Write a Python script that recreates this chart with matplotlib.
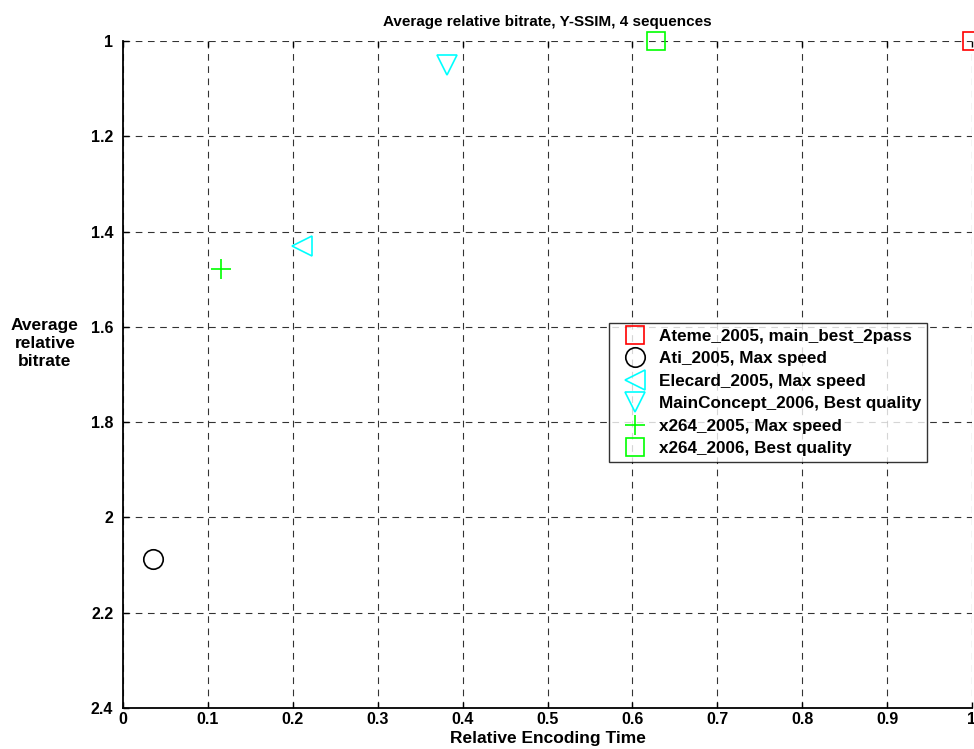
import matplotlib.pyplot as plt

# Encoder results: relative encoding time vs. average relative bitrate
codecs = ["Ateme_2005, main_best_2pass",
          "Ati_2005, Max speed",
          "Elecard_2005, Max speed",
          "MainConcept_2006, Best quality",
          "x264_2005, Max speed",
          "x264_2006, Best quality"]
enc_time = [1.0, 0.035, 0.211, 0.382, 0.115, 0.628]
rel_bitrate = [1.0, 2.087, 1.43, 1.05, 1.479, 1.0]
colors = ["red", "black", "cyan", "cyan", "#00ff00", "#00ff00"]
markers = ["s", "o", "<", "v", "+", "s"]
sizes = [12.5, 14, 14.5, 14.5, 15, 12.5]

xticks = [0, 0.1, 0.2, 0.3, 0.4, 0.5, 0.6, 0.7, 0.8, 0.9, 1]
xticklabels = ["0", "0.1", "0.2", "0.3", "0.4", "0.5", "0.6", "0.7", "0.8", "0.9", "1"]
yticks = [1, 1.2, 1.4, 1.6, 1.8, 2, 2.2, 2.4]
yticklabels = ["1", "1.2", "1.4", "1.6", "1.8", "2", "2.2", "2.4"]

font = ["Liberation Sans", "DejaVu Sans"]

fig = plt.figure(figsize=(9.74, 7.49), dpi=100)
ax = fig.add_axes([123 / 974, 41 / 749, 849 / 974, 667 / 749])

for name, x, y, c, m, s in zip(codecs, enc_time, rel_bitrate, colors, markers, sizes):
    ax.plot([x], [y], linestyle="none", marker=m, markersize=s,
            markerfacecolor="none", markeredgecolor=c, color=c,
            markeredgewidth=1.2, label=name, clip_on=False, zorder=5)

ax.set_xlim(0, 1)
ax.set_ylim(2.4, 1)
ax.set_xticks(xticks)
ax.set_xticklabels(xticklabels, family=font, fontweight="bold", fontsize=11.5)
ax.set_yticks(yticks)
ax.set_yticklabels(yticklabels, family=font, fontweight="bold", fontsize=11.5)
ax.tick_params(direction="in", length=4, width=1, top=True)
ax.tick_params(axis="y", pad=7)
ax.tick_params(axis="x", pad=3)

ax.grid(True, color="black", linestyle=(0, (6, 5)), linewidth=0.8, alpha=0.8)
ax.spines["top"].set_visible(False)
ax.spines["right"].set_visible(False)
ax.spines["left"].set_linewidth(1.3)
ax.spines["bottom"].set_linewidth(1.3)

ax.set_title("Average relative bitrate, Y-SSIM, 4 sequences", family=font,
             fontweight="bold", fontsize=11, pad=11)
ax.set_xlabel("Relative Encoding Time", family=font, fontweight="bold",
              fontsize=12.5, labelpad=3)
ax.set_ylabel("Average\nrelative\nbitrate", family=font, fontweight="bold",
              fontsize=12.5, rotation=0, ha="center", va="center",
              linespacing=1.25)
ax.yaxis.set_label_coords(-0.092, 0.546)

leg = ax.legend(loc="upper left", bbox_to_anchor=(0.573, 0.577),
                prop={"family": font, "weight": "bold", "size": 12.3},
                frameon=True, fancybox=False, edgecolor="black",
                borderpad=0.35, labelspacing=0.43, handletextpad=0.25,
                handlelength=2.3, borderaxespad=0)
leg.get_frame().set_linewidth(1.0)

fig.savefig("out.png", dpi=100)
